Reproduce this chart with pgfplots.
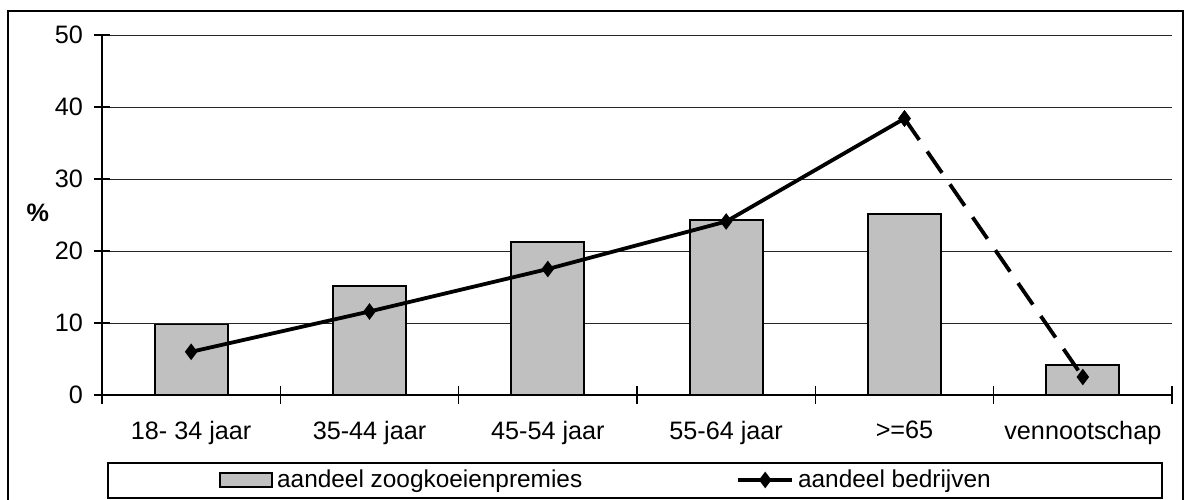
\documentclass[border=0pt]{standalone}
\usepackage{fontspec}
\setmainfont{Liberation Sans}
\usepackage{pgfplots}
\pgfplotsset{compat=1.18}
\definecolor{barfill}{RGB}{192,192,192}
\pgfplotsset{
    barlegend/.style={legend image code/.code={\draw[##1] (0bp,-3.5bp) rectangle (26bp,3.5bp);}},
    linelegend/.style={legend image code/.code={\draw[mark repeat=2, mark phase=2, ##1]
        plot coordinates {(0bp,0bp) (13.5bp,0bp) (27bp,0bp)};}},
}

\begin{document}
\begin{tikzpicture}
\begin{axis}[
    scale only axis,
    width=535bp, height=180bp,
    xmin=-0.5, xmax=5.5,
    ymin=0, ymax=50,
    clip=false,
    axis x line=bottom, axis y line=left,
    axis line style={-, black, line width=0.6bp},
    xtick={0,1,2,3,4,5},
    xticklabels={18- 34 jaar,35-44 jaar,45-54 jaar,55-64 jaar,{>=65},vennootschap},
    minor xtick={-0.5,0.5,1.5,2.5,3.5,4.5,5.5},
    major x tick style={draw=none},
    minor x tick style={black, line width=0.6bp},
    minor tick length=9bp,
    ytick={0,10,20,30,40,50},
    y tick style={black, line width=0.6bp},
    major tick length=8bp,
    tick align=center,
    ymajorgrids,
    major grid style={black!85, line width=0.5bp},
    ticklabel style={font=\fontsize{12.6bp}{15bp}\selectfont},
    /pgf/number format/assume math mode=true,
    xticklabel style={yshift=-5.5bp},
    yticklabel style={xshift=-2bp},
    ylabel={\textbf{\%}},
    ylabel style={rotate=-90, at={(axis description cs:-0.06,0.506)}, anchor=center,
        font=\fontsize{12.6bp}{15bp}\selectfont},
    legend style={draw=none, fill=none, at={(0.472,-0.236)}, anchor=center,
        font=\fontsize{12.2bp}{15bp}\selectfont, legend columns=2,
        /tikz/every even column/.append style={column sep=75bp}},
]

% aandeel zoogkoeienpremies
\addplot[ybar, bar width=36.5bp, fill=barfill, draw=black, line width=0.9bp, barlegend]
    coordinates {(0,9.8) (1,15.1) (2,21.3) (3,24.3) (4,25.1) (5,4.2)};
\addlegendentry{aandeel zoogkoeienpremies}

% aandeel bedrijven
\addplot[black, line width=1.9bp, mark=diamond*, mark size=2.6bp,
    mark options={solid, fill=black}, linelegend]
    coordinates {(0,6.0) (1,11.6) (2,17.5) (3,24.1) (4,38.4)};
\addlegendentry{aandeel bedrijven}

\addplot[black, line width=1.9bp, dash pattern=on 13bp off 7bp, forget plot,
    mark=diamond*, mark size=2.6bp, mark options={solid, fill=black}]
    coordinates {(4,38.4) (5,2.5)};

% legend frame
\draw[black, line width=0.6bp] ([xshift=3bp,yshift=-34bp]rel axis cs:0,0)
    rectangle ([xshift=-5bp,yshift=-51.5bp]rel axis cs:1,0);
\coordinate (bl) at (rel axis cs:0,0);
\coordinate (tr) at (rel axis cs:1,1);
\end{axis}
% outer frame
\draw[black, line width=0.6bp]
    ([xshift=-47bp,yshift=-53bp]bl) -- ([xshift=-47bp,yshift=12bp]bl |- tr)
    -- ([xshift=5.5bp,yshift=12bp]tr) -- ([xshift=5.5bp,yshift=-53bp]tr |- bl);
\pgfresetboundingbox
\path[use as bounding box] ([xshift=-51bp,yshift=-52.5bp]bl) rectangle ([xshift=6bp,yshift=17.5bp]tr);
\end{tikzpicture}
\end{document}
